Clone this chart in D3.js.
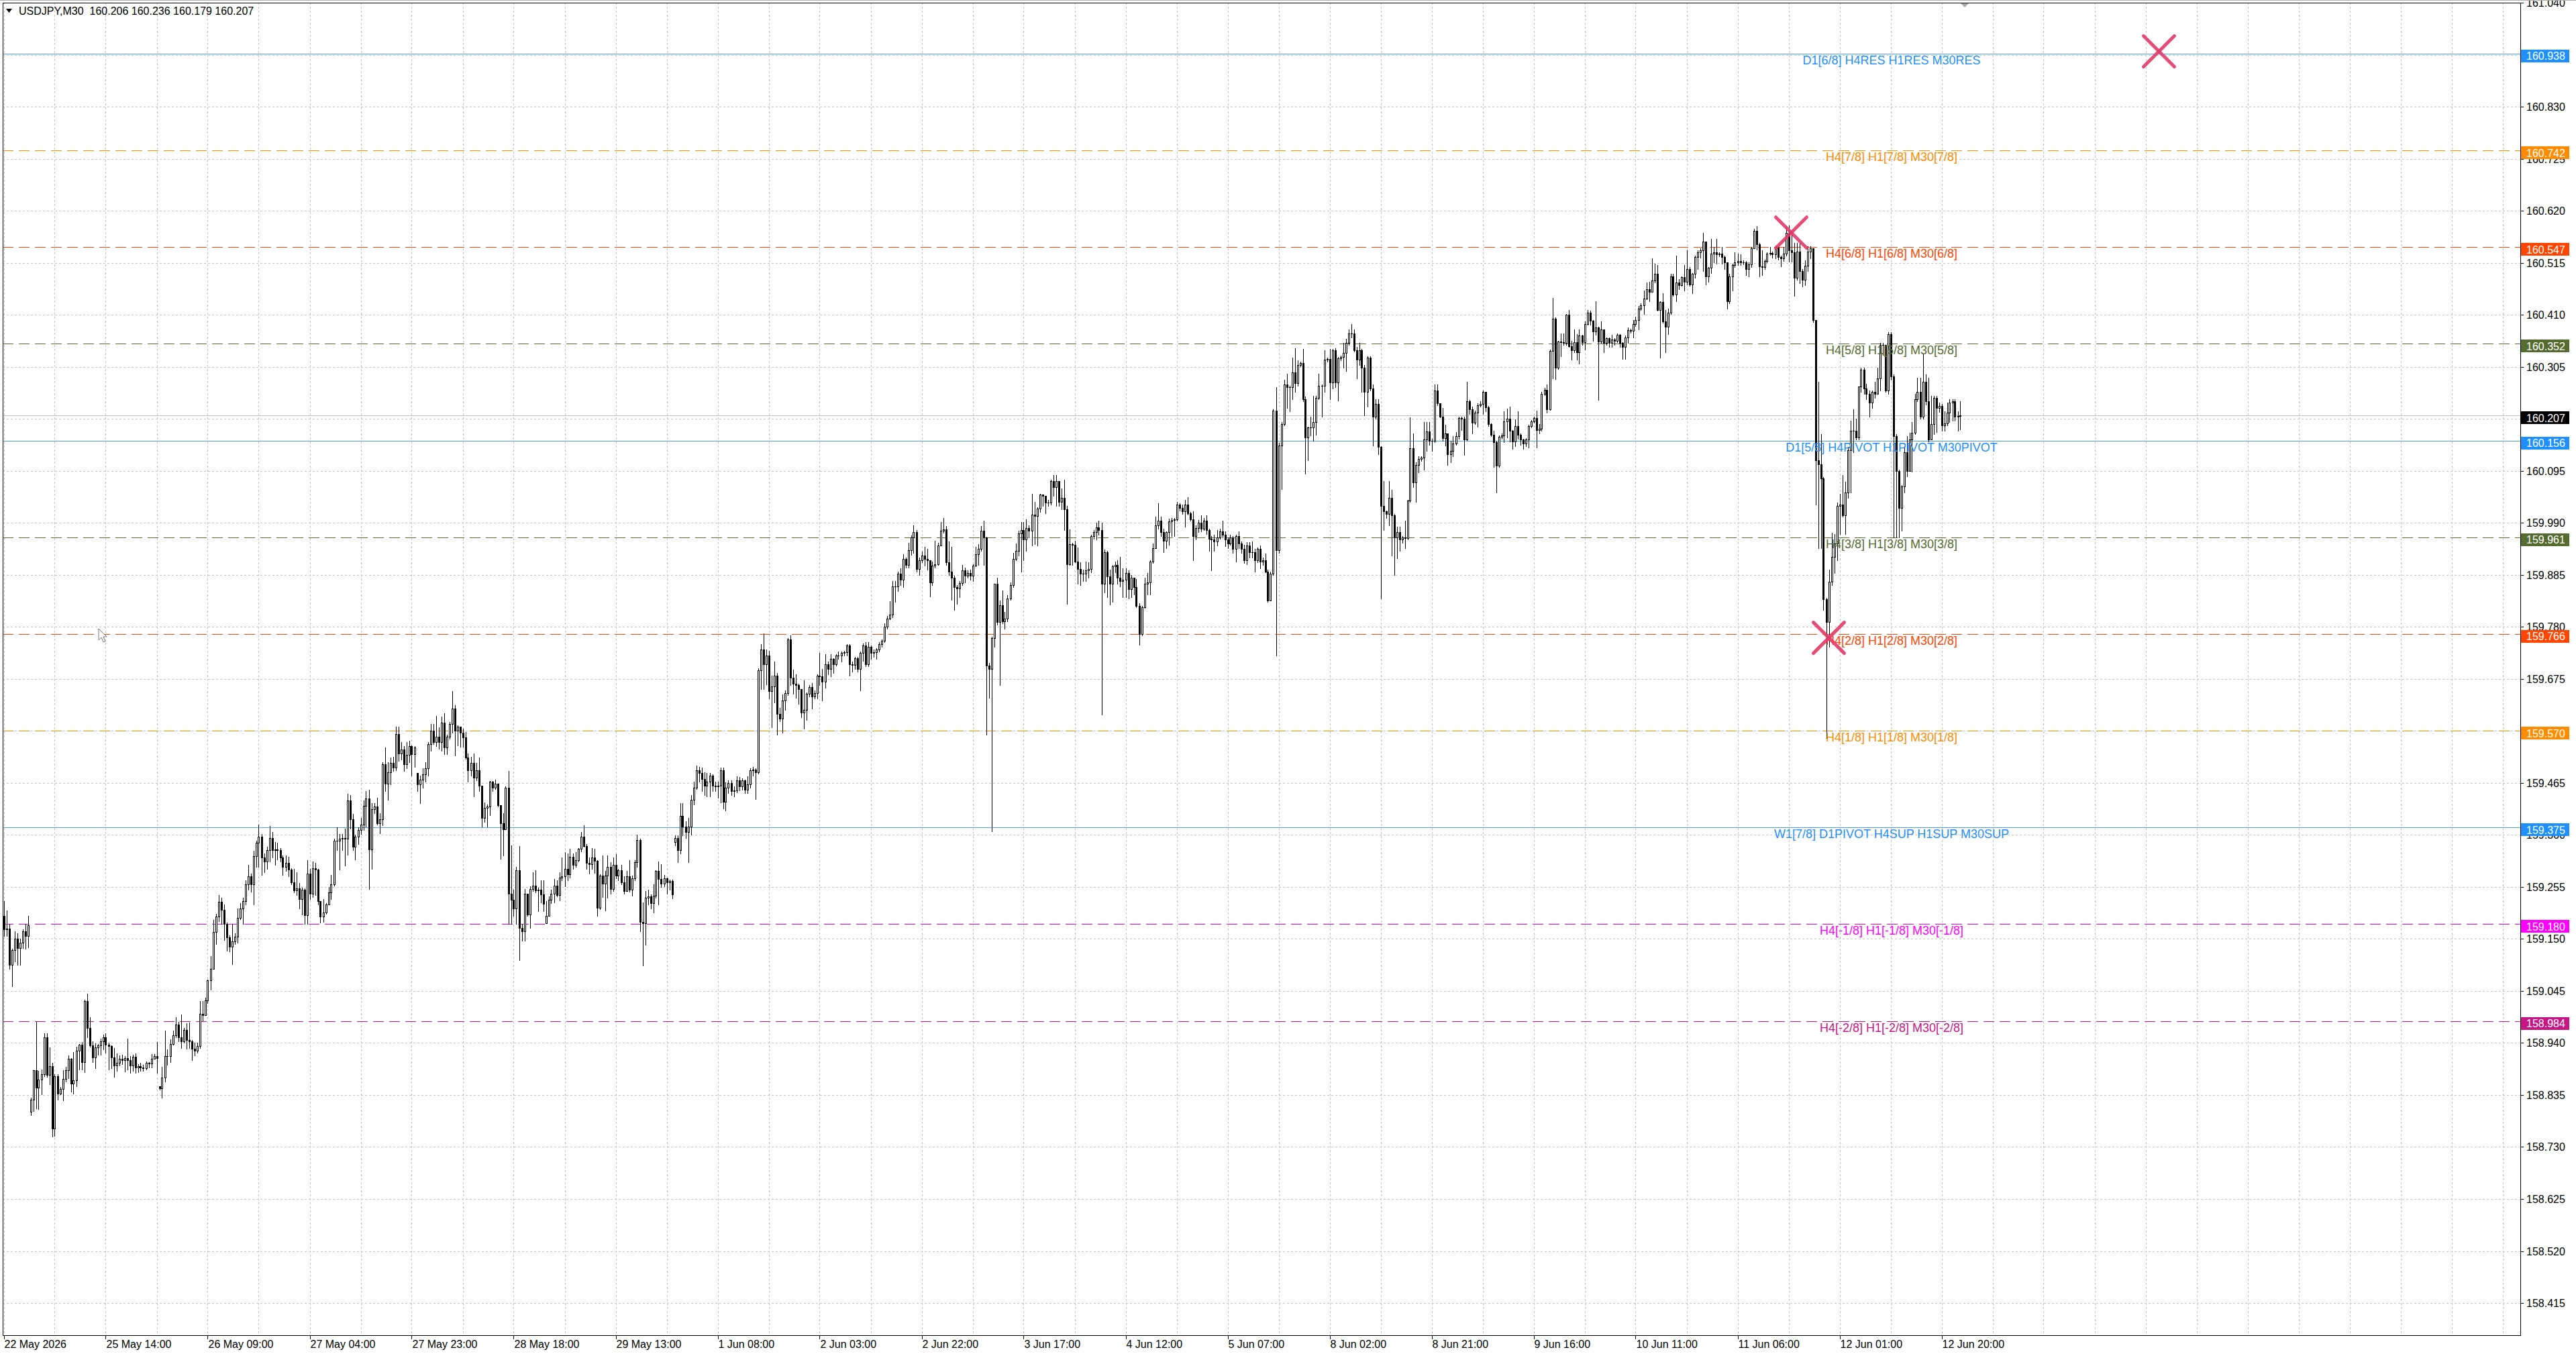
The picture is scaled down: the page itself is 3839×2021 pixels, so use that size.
<!DOCTYPE html>
<html>
<head>
<meta charset="utf-8">
<script src="https://cdn.jsdelivr.net/npm/d3@7"></script>
<style>
  html, body { margin: 0; padding: 0; background: #fff; }
  svg { display: block; font-family: "Liberation Sans", Arial, sans-serif; }
</style>
</head>
<body>
<svg id="chart" width="3839" height="2021"></svg>
<script>
// USDJPY M30 bars, prices stored as thousandths above 158.000
const firstOpen = 1197;
const gapOpens = [[10, 801], [58, 852], [154, 1485], [202, 1182], [250, 1346]];

const closes = [
  1169,1171,1098,1128,1150,1131,1143,1165,1156,1178, 826,885,850,866,877,952,876,893,767,873,
  838,847,868,885,908,858,865,924,937,901, 1024,970,935,911,931,935,944,952,936,934,
  911,895,900,908,905,910,905,895,912,890, 893,891,889,900,898,908,914,910,848,870,
  914,913,938,955,977,951,943,966,946,944, 928,924,934,999,996,1026,1066,1089,1164,1195,
  1225,1209,1180,1153,1134,1145,1155,1193,1212,1227, 1260,1276,1260,1317,1344,1356,1314,1306,1329,1354,
  1330,1331,1330,1314,1295,1303,1290,1265,1248,1252, 1231,1249,1198,1282,1242,1293,1290,1226,1195,1204,
  1220,1244,1260,1349,1348,1352,1354,1353,1430,1392, 1336,1357,1370,1381,1419,1434,1331,1412,1418,1384,
  1392,1503,1464,1486,1505,1496,1564,1525,1533,1503, 1522,1539,1523,1537,1462,1472,1482,1494,1543,1570,
  1547,1558,1547,1587,1536,1559,1584,1615,1570,1579, 1566,1557,1516,1491,1505,1476,1490,1459,1395,1415,
  1418,1467,1456,1464,1420,1384,1372,1456,1242,1229, 1211,1289,1172,1166,1242,1199,1251,1258,1248,1249,
  1240,1221,1197,1229,1242,1258,1238,1274,1277,1291, 1280,1316,1300,1309,1332,1357,1337,1303,1301,1314,
  1308,1213,1278,1262,1278,1296,1251,1300,1278,1289, 1265,1247,1277,1249,1273,1305,1350,1184,1182,1233,
  1236,1222,1237,1287,1271,1262,1273,1264,1267,1240, 1354,1330,1399,1377,1366,1377,1431,1455,1491,1485,
  1473,1460,1467,1480,1460,1458,1460,1491,1427,1455, 1465,1448,1450,1470,1458,1470,1452,1462,1490,1492,
  1487,1692,1735,1705,1722,1650,1660,1682,1605,1595, 1632,1647,1755,1677,1665,1662,1655,1607,1612,1645,
  1658,1640,1647,1682,1680,1670,1705,1695,1715,1705, 1722,1722,1727,1729,1742,1705,1703,1717,1695,1727,
  1742,1705,1740,1727,1729,1735,1745,1752,1781,1797, 1805,1862,1862,1887,1875,1917,1905,1935,1960,1972,
  1897,1914,1924,1917,1915,1870,1904,1906,1945,1974, 1977,1910,1892,1880,1860,1858,1869,1894,1884,1889,
  1884,1904,1927,1937,1974,1960,1702,1695,1757,1867, 1790,1824,1792,1797,1837,1864,1917,1934,1969,1975,
  1957,1979,1974,2007,2004,2019,2047,2044,2031,2031, 2074,2062,2074,2032,2040,2017,1907,1947,1946,1912,
  1897,1887,1887,1894,1897,1963,1971,1981,1975,1867, 1931,1882,1867,1902,1905,1880,1873,1875,1889,1857,
  1880,1860,1823,1766,1820,1867,1870,1912,1939,1985, 1995,1971,1954,1971,1993,1996,1997,2027,2020,2013,
  2027,2010,1997,1963,1979,1991,1978,1995,1976,1958, 1956,1953,1961,1973,1966,1956,1949,1961,1937,1963,
  1949,1937,1914,1944,1931,1931,1914,1937,1912,1914, 1892,1833,1887,2217,1935,2146,2190,2269,2264,2264,
  2294,2272,2309,2313,2240,2163,2183,2183,2193,2242, 2267,2267,2319,2321,2274,2338,2274,2323,2325,2333,
  2353,2373,2373,2338,2319,2339,2304,2254,2324,2262, 2205,2230,2143,2025,2013,2008,2040,2005,1961,1971,
  1956,1961,1959,2035,2141,2072,2107,2119,2122,2158, 2175,2156,2156,2257,2232,2205,2161,2171,2128,2136,
  2150,2165,2202,2200,2158,2236,2220,2192,2212,2228, 2230,2254,2224,2189,2168,2153,2106,2164,2167,2195,
  2200,2176,2155,2185,2168,2158,2150,2158,2186,2195, 2202,2178,2180,2251,2259,2220,2337,2402,2303,2356,
  2355,2354,2410,2347,2338,2355,2334,2368,2355,2392, 2415,2398,2376,2384,2356,2380,2353,2363,2353,2360,
  2358,2370,2353,2345,2365,2379,2378,2391,2399,2423, 2429,2443,2462,2457,2480,2493,2420,2436,2397,2386,
  2415,2488,2451,2475,2470,2486,2477,2503,2472,2493, 2527,2537,2540,2558,2488,2505,2534,2537,2532,2534,
  2527,2516,2438,2488,2511,2516,2519,2516,2516,2503, 2512,2545,2580,2553,2508,2507,2519,2534,2535,2533,
  2547,2527,2524,2534,2576,2541,2536,2485,2538,2499, 2481,2509,2538,2545,2399,2116,2109,2080,1836,1790,
  1871,1921,1949,2024,2027,2006,2052,2137,2176,2176, 2162,2265,2300,2262,2250,2233,2254,2250,2282,2350,
  2350,2258,2371,2286,2165,2095,2020,2063,2133,2095, 2158,2172,2240,2254,2204,2275,2236,2158,2190,2243,
  2222,2226,2187,2191,2212,2233,2236,2205,2206,2207
];

const highs = [
  1227,1208,1180,1130,1165,1162,1150,1170,1180,1197, 830,885,983,884,887,959,960,931,900,877,
  877,851,885,892,915,909,922,932,938,942, 1027,1039,992,943,939,938,949,957,959,940,
  935,930,919,915,916,914,949,914,916,919, 897,900,896,903,902,917,918,942,853,892,
  965,927,948,965,992,983,998,970,980,981, 946,940,940,1024,1024,1032,1068,1115,1188,1201,
  1239,1233,1220,1183,1158,1180,1162,1212,1222,1233, 1268,1299,1282,1328,1349,1381,1362,1322,1336,1378,
  1366,1346,1344,1334,1318,1319,1316,1293,1292,1285, 1263,1253,1252,1309,1292,1306,1303,1292,1226,1230,
  1222,1255,1279,1352,1375,1362,1362,1373,1443,1441, 1403,1360,1376,1394,1430,1448,1451,1424,1424,1435,
  1404,1507,1537,1507,1516,1518,1578,1578,1548,1539, 1548,1550,1541,1539,1485,1480,1494,1507,1548,1584,
  1584,1601,1577,1599,1606,1562,1588,1651,1622,1581, 1579,1574,1568,1525,1518,1525,1505,1516,1460,1426,
  1422,1469,1469,1472,1460,1420,1404,1458,1489,1339, 1249,1295,1337,1181,1251,1240,1256,1285,1289,1254,
  1269,1269,1226,1236,1250,1271,1269,1285,1314,1325, 1323,1332,1323,1325,1334,1366,1379,1341,1314,1334,
  1332,1309,1281,1318,1287,1318,1305,1314,1321,1292, 1300,1276,1287,1309,1278,1309,1361,1352,1224,1247,
  1249,1240,1260,1289,1307,1301,1279,1274,1270,1270, 1359,1359,1424,1424,1388,1395,1440,1467,1500,1498,
  1496,1487,1485,1485,1482,1467,1467,1496,1496,1466, 1470,1470,1458,1478,1477,1475,1472,1479,1494,1497,
  1495,1697,1745,1767,1734,1732,1682,1710,1687,1617, 1644,1652,1757,1763,1694,1684,1665,1632,1672,1648,
  1662,1667,1652,1685,1727,1695,1725,1710,1725,1717, 1725,1730,1730,1732,1745,1745,1710,1720,1720,1730,
  1747,1750,1750,1742,1735,1737,1750,1755,1787,1802, 1832,1872,1872,1892,1899,1927,1920,1950,1965,1985,
  1975,1920,1932,1942,1937,1915,1912,1954,1950,1992, 2000,1984,1952,1942,1884,1865,1872,1905,1900,1894,
  1895,1907,1942,1947,1984,1995,1962,1707,1760,1867, 1879,1834,1854,1810,1844,1870,1929,1949,1974,1992,
  1992,1997,1985,2049,2032,2022,2049,2047,2040,2037, 2077,2087,2087,2062,2060,2077,2024,1977,1950,1954,
  1940,1910,1895,1912,1910,1966,1975,1990,1995,1990, 1936,1934,1896,1905,1912,1915,1922,1899,1899,1894,
  1885,1880,1877,1828,1823,1880,1889,1914,1948,2003, 2030,2003,1978,1973,1998,2000,2000,2032,2030,2027,
  2037,2042,2012,2013,1985,1996,2005,2000,2005,1978, 1963,1966,1976,1978,1995,1973,1960,1966,1963,1966,
  1973,1952,1946,1951,1951,1952,1937,1940,1945,1920, 1928,1896,1892,2220,2264,2152,2193,2279,2291,2267,
  2324,2343,2318,2316,2341,2245,2184,2205,2247,2247, 2291,2270,2338,2324,2341,2341,2343,2325,2328,2353,
  2361,2381,2392,2380,2346,2353,2341,2309,2326,2326, 2269,2240,2240,2145,2074,2015,2074,2057,2008,1983,
  1983,1964,1995,2037,2203,2171,2112,2124,2125,2193, 2193,2193,2160,2269,2269,2232,2222,2188,2148,2156,
  2165,2173,2205,2205,2205,2275,2238,2225,2217,2231, 2235,2258,2249,2226,2191,2176,2156,2166,2170,2215,
  2221,2225,2178,2199,2215,2170,2160,2161,2188,2198, 2205,2217,2190,2254,2263,2269,2340,2444,2405,2358,
  2373,2373,2412,2420,2358,2381,2371,2381,2370,2397, 2420,2418,2400,2438,2386,2397,2381,2365,2365,2370,
  2363,2372,2371,2355,2368,2384,2382,2399,2407,2428, 2433,2459,2475,2477,2524,2514,2511,2438,2454,2420,
  2423,2493,2493,2529,2482,2488,2511,2540,2506,2495, 2529,2540,2545,2576,2521,2506,2563,2547,2563,2537,
  2547,2530,2516,2493,2514,2537,2534,2532,2520,2519, 2516,2547,2584,2589,2555,2540,2521,2537,2547,2538,
  2550,2545,2529,2547,2589,2591,2573,2555,2555,2555, 2502,2520,2548,2548,2545,2400,2275,2169,2083,1839,
  1896,1970,1967,2031,2049,2087,2073,2144,2197,2219, 2201,2265,2304,2304,2271,2258,2258,2275,2304,2354,
  2354,2350,2375,2375,2290,2169,2098,2066,2144,2165, 2172,2194,2250,2283,2283,2330,2290,2283,2247,2247,
  2247,2233,2230,2215,2233,2240,2240,2240,2215,2236
];

const lows = [
  1156,1156,1090,1055,1105,1098,1098,1131,1130,1133, 794,803,808,806,836,873,871,857,751,752,
  825,836,824,862,869,842,837,852,887,887, 881,951,932,901,889,916,916,927,920,887,
  889,872,884,895,897,882,887,880,884,880, 881,884,884,887,890,890,910,880,846,830,
  862,896,901,936,952,943,930,941,929,930, 906,915,920,930,985,996,1020,1048,1089,1140,
  1186,1180,1148,1126,1125,1099,1140,1143,1190,1180, 1220,1250,1245,1220,1296,1296,1279,1285,1292,1306,
  1314,1300,1311,1306,1279,1287,1276,1260,1244,1239, 1212,1199,1180,1180,1231,1235,1239,1220,1183,1185,
  1201,1220,1231,1257,1330,1290,1330,1298,1320,1373, 1330,1311,1341,1362,1370,1377,1251,1292,1404,1381,
  1363,1379,1449,1431,1462,1489,1491,1509,1512,1489, 1494,1507,1480,1498,1449,1424,1455,1467,1480,1530,
  1543,1539,1534,1530,1523,1523,1554,1566,1520,1541, 1538,1538,1514,1467,1480,1438,1470,1449,1377,1386,
  1377,1400,1449,1453,1417,1312,1318,1372,1181,1181, 1197,1180,1107,1147,1146,1196,1172,1247,1244,1206,
  1224,1206,1182,1197,1222,1224,1236,1228,1269,1256, 1269,1274,1292,1296,1307,1327,1336,1292,1282,1292,
  1283,1197,1210,1235,1208,1233,1242,1247,1273,1269, 1260,1242,1247,1245,1237,1269,1296,1166,1096,1139,
  1220,1211,1203,1233,1220,1255,1256,1242,1250,1232, 1339,1305,1323,1359,1354,1305,1361,1422,1453,1467,
  1449,1440,1438,1438,1449,1449,1435,1426,1414,1410, 1445,1440,1438,1446,1450,1452,1444,1444,1456,1480,
  1432,1484,1655,1655,1664,1635,1577,1627,1562,1590, 1567,1612,1642,1662,1645,1637,1625,1597,1575,1592,
  1640,1615,1635,1635,1662,1632,1657,1685,1680,1687, 1702,1715,1710,1722,1722,1682,1690,1695,1690,1652,
  1712,1700,1700,1715,1720,1715,1730,1740,1750,1777, 1795,1800,1830,1852,1865,1860,1900,1900,1925,1930,
  1892,1885,1910,1904,1895,1842,1865,1900,1905,1945, 1970,1905,1885,1835,1815,1827,1840,1865,1870,1880,
  1875,1872,1902,1905,1934,1905,1562,1637,1367,1740, 1785,1662,1787,1777,1792,1835,1860,1914,1924,1892,
  1914,1934,1960,1944,1947,1945,2012,2024,2009,2025, 2027,2045,2025,2024,2017,1975,1827,1905,1905,1910,
  1867,1865,1872,1872,1880,1890,1958,1956,1966,1603, 1850,1840,1825,1830,1890,1867,1862,1840,1840,1838,
  1840,1845,1820,1744,1763,1818,1845,1845,1909,1939, 1978,1964,1931,1939,1946,1963,1963,1995,2015,2008,
  1983,2007,1994,1914,1956,1971,1973,1975,1968,1934, 1894,1934,1944,1958,1960,1943,1939,1946,1930,1912,
  1939,1930,1909,1907,1920,1920,1892,1910,1899,1905, 1890,1830,1838,1885,1722,1930,2058,2187,2222,2215,
  2240,2255,2267,2306,2235,2089,2116,2166,2156,2168, 2240,2205,2255,2315,2240,2262,2264,2237,2318,2304,
  2297,2350,2365,2336,2282,2309,2255,2207,2225,2257, 2146,2200,2129,1838,1976,2000,1985,1924,1885,1919,
  1934,1950,1939,1956,2033,2062,2032,2092,2115,2097, 2136,2148,2136,2153,2227,2203,2156,2146,2107,2112,
  2124,2147,2160,2178,2127,2157,2210,2171,2189,2184, 2225,2210,2215,2186,2165,2103,2052,2103,2160,2153,
  2163,2155,2140,2145,2160,2147,2140,2145,2142,2183, 2192,2142,2170,2176,2248,2212,2218,2282,2280,2301,
  2327,2350,2350,2345,2320,2334,2319,2311,2350,2340, 2390,2390,2358,2370,2238,2353,2334,2350,2345,2345,
  2350,2355,2345,2321,2321,2353,2374,2365,2387,2381, 2420,2412,2441,2438,2456,2475,2418,2324,2394,2334,
  2371,2412,2449,2438,2462,2468,2459,2472,2469,2454, 2485,2503,2526,2498,2472,2477,2495,2516,2514,2528,
  2514,2503,2423,2433,2459,2506,2511,2511,2512,2490, 2488,2506,2545,2542,2488,2490,2503,2516,2531,2526,
  2524,2521,2508,2519,2530,2517,2517,2449,2481,2474, 2467,2470,2499,2524,2396,2027,1939,1939,1815,1556,
  1740,1865,1889,1914,1967,2002,1967,2041,2052,2133, 2159,2159,2254,2250,2240,2204,2222,2243,2250,2258,
  2329,2254,2251,2279,1960,1960,1960,1974,2052,2084, 2102,2094,2169,2236,2201,2201,2229,2155,2165,2169,
  2173,2214,2176,2176,2187,2194,2197,2197,2176,2179
];

const timeLabels = ["22 May 2026", "25 May 14:00", "26 May 09:00", "27 May 04:00", "27 May 23:00",
  "28 May 18:00", "29 May 13:00", "1 Jun 08:00", "2 Jun 03:00", "2 Jun 22:00", "3 Jun 17:00",
  "4 Jun 12:00", "5 Jun 07:00", "8 Jun 02:00", "8 Jun 21:00", "9 Jun 16:00", "10 Jun 11:00",
  "11 Jun 06:00", "12 Jun 01:00", "12 Jun 20:00"];
const timeLabelBars = [0, 38, 76, 114, 152, 190, 228, 266, 304, 342, 380, 418, 456, 494, 532, 570, 608, 646, 684, 722];

const priceTicks = ["161.040", "160.935", "160.830", "160.725", "160.620", "160.515", "160.410", "160.305",
  "160.200", "160.095", "159.990", "159.885", "159.780", "159.675", "159.570", "159.465", "159.360",
  "159.255", "159.150", "159.045", "158.940", "158.835", "158.730", "158.625", "158.520", "158.415"];

// murrey style levels
const levelPrices = [160.938, 160.742, 160.547, 160.352, 160.156, 159.961, 159.766, 159.570, 159.375, 159.180, 158.984];
const levelLabels = ["D1[6/8] H4RES H1RES M30RES", "H4[7/8] H1[7/8] M30[7/8]", "H4[6/8] H1[6/8] M30[6/8]",
  "H4[5/8] H1[5/8] M30[5/8]", "D1[5/8] H4PIVOT H1PIVOT M30PIVOT", "H4[3/8] H1[3/8] M30[3/8]",
  "H4[2/8] H1[2/8] M30[2/8]", "H4[1/8] H1[1/8] M30[1/8]", "W1[7/8] D1PIVOT H4SUP H1SUP M30SUP",
  "H4[-1/8] H1[-1/8] M30[-1/8]", "H4[-2/8] H1[-2/8] M30[-2/8]"];
const levelColors = ["#1E90FF", "#FF8C00", "#FF4500", "#556B2F", "#1E90FF", "#556B2F", "#FF4500", "#FF8C00", "#1E90FF", "#FF00FF", "#C71585"];
const levelSolid = [true, false, false, false, true, false, false, false, true, false, false];

const lastPrice = 160.207;
const barTitle = "USDJPY,M30  160.206 160.236 160.179 160.207";

const crossBars = [666, 680, 803];
const crossPrices = [160.576, 159.758, 160.942];

// ---- layout
const W = 3839, H = 2021;
const plotL = 4, plotT = 4, plotR = 3756, plotB = 1990;

const svg = d3.select('#chart');
svg.append('rect').attr('width', W).attr('height', H).attr('fill', '#fff');

const x = d3.scaleLinear().domain([0, 937.5]).range([5.5, 3755.5]);
const y = d3.scaleLinear().domain([158.350, 161.041]).range([plotB, 3.5]);
const toPrice = n => 158 + n / 1000;
const px = v => Math.round(v) + 0.5;

const gapMap = new Map(gapOpens);
const bars = closes.map((c, i) => {
  const o = gapMap.has(i) ? gapMap.get(i) : (i === 0 ? firstOpen : closes[i - 1]);
  return {
    i: i,
    o: toPrice(o),
    c: toPrice(c),
    h: toPrice(Math.max(highs[i], o, c)),
    l: toPrice(Math.min(lows[i], o, c))
  };
});

svg.append('clipPath').attr('id', 'plotclip')
  .append('rect').attr('x', plotL).attr('y', plotT).attr('width', plotR - plotL).attr('height', plotB - plotT);

const plot = svg.append('g').attr('clip-path', 'url(#plotclip)');

// grid
const grid = plot.append('g').attr('stroke', '#c4c4c4').attr('stroke-width', 1).attr('stroke-dasharray', '3,3');
grid.selectAll('line.h').data(priceTicks).join('line')
  .attr('class', 'h')
  .attr('x1', plotL).attr('x2', plotR)
  .attr('y1', d => px(y(+d))).attr('y2', d => px(y(+d)));
grid.selectAll('line.v').data(d3.range(0, 938, 19)).join('line')
  .attr('class', 'v')
  .attr('x1', d => px(x(d))).attr('x2', d => px(x(d)))
  .attr('y1', plotT).attr('y2', plotB);

// level lines
plot.append('g').selectAll('line').data(levelPrices).join('line')
  .attr('x1', plotL).attr('x2', plotR)
  .attr('y1', d => px(y(d))).attr('y2', d => px(y(d)))
  .attr('stroke', (d, i) => levelColors[i])
  .attr('stroke-opacity', (d, i) => levelSolid[i] ? 0.85 : 1)
  .attr('stroke-width', 1)
  .attr('stroke-dasharray', (d, i) => levelSolid[i] ? null : '16,8');

// bid line
plot.append('line')
  .attr('x1', plotL).attr('x2', plotR)
  .attr('y1', px(y(lastPrice))).attr('y2', px(y(lastPrice)))
  .attr('stroke', '#c0c0c0').attr('stroke-width', 1);

// candles
const cg = plot.append('g');
cg.selectAll('line.wick').data(bars).join('line')
  .attr('class', 'wick')
  .attr('x1', d => px(x(d.i))).attr('x2', d => px(x(d.i)))
  .attr('y1', d => Math.round(y(d.h))).attr('y2', d => Math.round(y(d.l)) + 1)
  .attr('stroke', '#000').attr('stroke-width', 1);

cg.selectAll('rect.bear').data(bars.filter(d => d.c < d.o)).join('rect')
  .attr('class', 'bear')
  .attr('x', d => px(x(d.i)) - 1.5)
  .attr('width', 3)
  .attr('y', d => Math.round(y(d.o)))
  .attr('height', d => Math.max(1, Math.round(y(d.c)) - Math.round(y(d.o)) + 1))
  .attr('fill', '#000');

cg.selectAll('rect.bull').data(bars.filter(d => d.c > d.o)).join('rect')
  .attr('class', 'bull')
  .attr('x', d => px(x(d.i)) - 1)
  .attr('width', 2)
  .attr('y', d => Math.round(y(d.c)) + 0.5)
  .attr('height', d => Math.max(1, Math.round(y(d.o)) - Math.round(y(d.c))))
  .attr('fill', '#fff').attr('stroke', '#000').attr('stroke-width', 1);

cg.selectAll('line.doji').data(bars.filter(d => d.c === d.o)).join('line')
  .attr('class', 'doji')
  .attr('x1', d => px(x(d.i)) - 1.5).attr('x2', d => px(x(d.i)) + 1.5)
  .attr('y1', d => px(y(d.c))).attr('y2', d => px(y(d.c)))
  .attr('stroke', '#000').attr('stroke-width', 1);

// level labels
plot.append('g').selectAll('text').data(levelPrices).join('text')
  .attr('x', 2819)
  .attr('y', d => y(d) + 16)
  .attr('text-anchor', 'middle')
  .attr('font-size', 18)
  .attr('fill', (d, i) => levelColors[i])
  .text((d, i) => levelLabels[i]);

// crosses
const cross = plot.append('g')
  .attr('stroke', '#e23a68').attr('stroke-opacity', 0.9)
  .attr('stroke-width', 5).attr('stroke-linecap', 'round');
crossBars.forEach((b, i) => {
  const cx = x(b), cy = y(crossPrices[i]), r = 23;
  cross.append('line').attr('x1', cx - r).attr('y1', cy - r).attr('x2', cx + r).attr('y2', cy + r);
  cross.append('line').attr('x1', cx - r).attr('y1', cy + r).attr('x2', cx + r).attr('y2', cy - r);
});

// mouse pointer left on the chart
plot.append('path')
  .attr('transform', 'translate(147,937)')
  .attr('d', 'M0,0 L0,17 L4,13 L7,20 L10,19 L7,12 L12,12 Z')
  .attr('fill', '#fff').attr('stroke', '#777').attr('stroke-width', 1);

// chart shift marker
svg.append('path')
  .attr('d', `M${2922},5 L${2934},5 L${2928},11 Z`)
  .attr('fill', '#a8a8a8');

// title
svg.append('path').attr('d', 'M9,13 L18,13 L13.5,19 Z').attr('fill', '#000');
svg.append('text')
  .attr('x', 28).attr('y', 22)
  .attr('font-size', 16).attr('fill', '#000')
  .attr('xml:space', 'preserve')
  .style('white-space', 'pre')
  .text(barTitle);

// right price axis
const axisR = svg.append('g');
axisR.selectAll('line').data(priceTicks).join('line')
  .attr('x1', plotR).attr('x2', plotR + 5)
  .attr('y1', d => px(y(+d))).attr('y2', d => px(y(+d)))
  .attr('stroke', '#000');
axisR.selectAll('text').data(priceTicks).join('text')
  .attr('x', 3765)
  .attr('y', d => y(+d) + 6)
  .attr('font-size', 16).attr('fill', '#000')
  .text(d => d);

// price boxes for the levels and the last price
const boxes = levelPrices.map((p, i) => ({p: p, color: levelColors[i]}));
boxes.push({p: lastPrice, color: '#000'});
const bg = svg.append('g');
bg.selectAll('rect').data(boxes).join('rect')
  .attr('x', 3757).attr('width', 72)
  .attr('y', d => Math.round(y(d.p)) - 6).attr('height', 19)
  .attr('fill', d => d.color);
bg.selectAll('text').data(boxes).join('text')
  .attr('x', 3765)
  .attr('y', d => y(d.p) + 9.5)
  .attr('font-size', 16).attr('fill', '#fff')
  .text(d => d.p.toFixed(3));

// bottom time axis
const axisB = svg.append('g');
axisB.selectAll('line').data(timeLabelBars).join('line')
  .attr('x1', d => px(x(d))).attr('x2', d => px(x(d)))
  .attr('y1', plotB).attr('y2', plotB + 6)
  .attr('stroke', '#000');
axisB.selectAll('text').data(timeLabelBars).join('text')
  .attr('x', d => x(d) + 1)
  .attr('y', 2009)
  .attr('font-size', 16).attr('fill', '#000')
  .text((d, i) => timeLabels[i]);

// frame
svg.append('rect')
  .attr('x', plotL + 0.5).attr('y', plotT + 0.5)
  .attr('width', plotR - plotL).attr('height', plotB - plotT)
  .attr('fill', 'none').attr('stroke', '#000').attr('stroke-width', 1);
svg.append('line').attr('x1', 0).attr('x2', W).attr('y1', 0.5).attr('y2', 0.5).attr('stroke', '#b0b0b0');
</script>
</body>
</html>
